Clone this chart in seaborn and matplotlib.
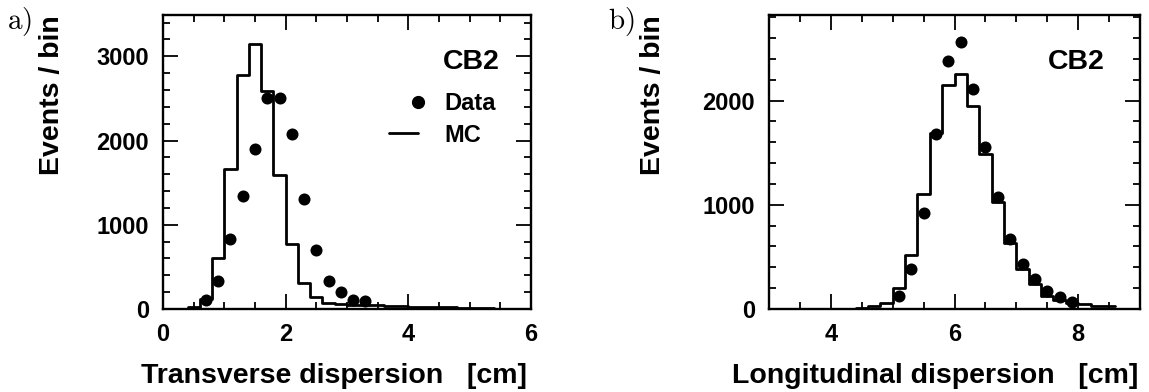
import matplotlib
matplotlib.use("Agg")
import matplotlib.pyplot as plt
from matplotlib.lines import Line2D
from matplotlib.legend_handler import HandlerLine2D
from matplotlib.ticker import MultipleLocator
import seaborn as sns

# Transverse shower dispersion (bin width 0.2 cm)
trans_mc_centers = [0.5, 0.7, 0.9, 1.1, 1.3, 1.5, 1.7, 1.9, 2.1, 2.3, 2.5, 2.7, 2.9,
                    3.1, 3.3, 3.5, 3.7, 3.9, 4.1, 4.3, 4.5, 4.7, 4.9, 5.1, 5.3]
trans_mc_counts = [20, 120, 610, 1660, 2775, 3140, 2590, 1595, 775, 305, 138, 70, 60,
                   50, 50, 45, 35, 30, 28, 25, 20, 18, 15, 12, 10]
trans_data_centers = [0.7, 0.9, 1.1, 1.3, 1.5, 1.7, 1.9, 2.1, 2.3, 2.5, 2.7, 2.9, 3.1, 3.3]
trans_data_counts = [110, 336, 828, 1345, 1900, 2500, 2500, 2078, 1310, 702, 330, 200, 110, 95]

# Longitudinal shower dispersion (bin width 0.2 cm)
long_mc_centers = [4.5, 4.7, 4.9, 5.1, 5.3, 5.5, 5.7, 5.9, 6.1, 6.3, 6.5, 6.7, 6.9,
                   7.1, 7.3, 7.5, 7.7, 7.9, 8.1, 8.3, 8.5]
long_mc_counts = [10, 25, 55, 205, 518, 1100, 1690, 2150, 2255, 1950, 1490, 1025, 630,
                  380, 240, 128, 85, 55, 45, 30, 25]
long_data_centers = [5.1, 5.3, 5.5, 5.7, 5.9, 6.1, 6.3, 6.5, 6.7, 6.9, 7.1, 7.3, 7.5, 7.7, 7.9]
long_data_counts = [128, 388, 918, 1679, 2383, 2559, 2108, 1555, 1074, 670, 435, 288, 170, 118, 70]

sns.set_style("ticks")
plt.rcParams["font.family"] = ["Liberation Sans", "DejaVu Sans"]
plt.rcParams["font.weight"] = "bold"
plt.rcParams["mathtext.fontset"] = "cm"
for key in ("text.color", "axes.labelcolor", "xtick.color", "ytick.color", "axes.edgecolor"):
    plt.rcParams[key] = "black"

W, H = 1149, 392
fig = plt.figure(figsize=(W / 100, H / 100), dpi=100)


class RightMarkerHandler(HandlerLine2D):
    """Legend handler that puts the single marker at the right end of the handle box."""

    def get_xdata(self, legend, xdescent, ydescent, width, height, fontsize):
        right = -xdescent + width
        return [right - 1, right + 1], [right]


def px_axes(left, right, top, bottom):
    return fig.add_axes([left / W, 1 - bottom / H, (right - left) / W, (bottom - top) / H])


def style_axes(ax, xlim, ylim):
    ax.set_xlim(*xlim)
    ax.set_ylim(*ylim)
    ax.xaxis.set_major_locator(MultipleLocator(2))
    ax.xaxis.set_minor_locator(MultipleLocator(0.5))
    ax.yaxis.set_major_locator(MultipleLocator(1000))
    ax.yaxis.set_minor_locator(MultipleLocator(200))
    ax.tick_params(which="both", direction="in", top=True, right=True,
                   width=1.3, color="black", labelcolor="black", labelsize=17, pad=10)
    ax.tick_params(which="major", length=11)
    ax.tick_params(which="minor", length=5)
    for lab in ax.get_xticklabels() + ax.get_yticklabels():
        lab.set_fontweight("bold")
    for sp in ax.spines.values():
        sp.set_visible(True)
        sp.set_linewidth(1.7)
        sp.set_color("black")


def draw_panel(ax, mc_x, mc_y, mc_range, d_x, d_y):
    sns.histplot(x=mc_x, weights=mc_y, binwidth=0.2, binrange=mc_range,
                 element="step", fill=False, color="black", linewidth=2.0, ax=ax)
    sns.scatterplot(x=d_x, y=d_y, s=75, color="black", edgecolor="black",
                    marker="o", linewidth=0, zorder=3, ax=ax)


# Panel a: transverse dispersion
ax1 = px_axes(163, 531, 15, 309)
draw_panel(ax1, trans_mc_centers, trans_mc_counts, (0.4, 5.4),
           trans_data_centers, trans_data_counts)
style_axes(ax1, (0, 6), (0, 3490))
ax1.set_xlabel("Transverse dispersion   [cm]", fontsize=20.5, fontweight="bold",
               ha="right", va="baseline", color="black")
ax1.xaxis.set_label_coords(0.99, -0.252)
ax1.set_ylabel("Events / bin", fontsize=20.5, fontweight="bold", ha="right",
               va="center", color="black")
ax1.yaxis.set_label_coords(-0.302, 1.0)
ax1.text(0.915, 0.84, "CB2", transform=ax1.transAxes, ha="right", va="center",
         fontsize=20.5, fontweight="bold", color="black")
data_handle = Line2D([], [], marker="o", linestyle="none", color="black", markersize=8.5)
mc_handle = Line2D([], [], color="black", linewidth=2.0)
leg = ax1.legend([data_handle, mc_handle], ["Data", "MC"], loc="center left",
                 bbox_to_anchor=(0.556, 0.645), frameon=False, handlelength=1.25,
                 handletextpad=1.1, labelspacing=0.35,
                 handler_map={data_handle: RightMarkerHandler(numpoints=1)},
                 prop={"size": 17, "weight": "bold"})
for t in leg.get_texts():
    t.set_color("black")
fig.text(7 / W, 1 - 21 / H, r"$\mathrm{a)}$", fontsize=21, ha="left", va="center",
         color="black")

# Panel b: longitudinal dispersion
ax2 = px_axes(769, 1140, 15, 309)
draw_panel(ax2, long_mc_centers, long_mc_counts, (4.4, 8.6),
           long_data_centers, long_data_counts)
style_axes(ax2, (3, 9), (0, 2822))
ax2.set_xlabel("Longitudinal dispersion   [cm]", fontsize=20.5, fontweight="bold",
               ha="right", va="baseline", color="black")
ax2.xaxis.set_label_coords(0.995, -0.252)
ax2.set_ylabel("Events / bin", fontsize=20.5, fontweight="bold", ha="right",
               va="center", color="black")
ax2.yaxis.set_label_coords(-0.313, 1.0)
ax2.text(0.905, 0.84, "CB2", transform=ax2.transAxes, ha="right", va="center",
         fontsize=20.5, fontweight="bold", color="black")
fig.text(608 / W, 1 - 21 / H, r"$\mathrm{b)}$", fontsize=21, ha="left", va="center",
         color="black")

fig.savefig("out.png", dpi=100)
